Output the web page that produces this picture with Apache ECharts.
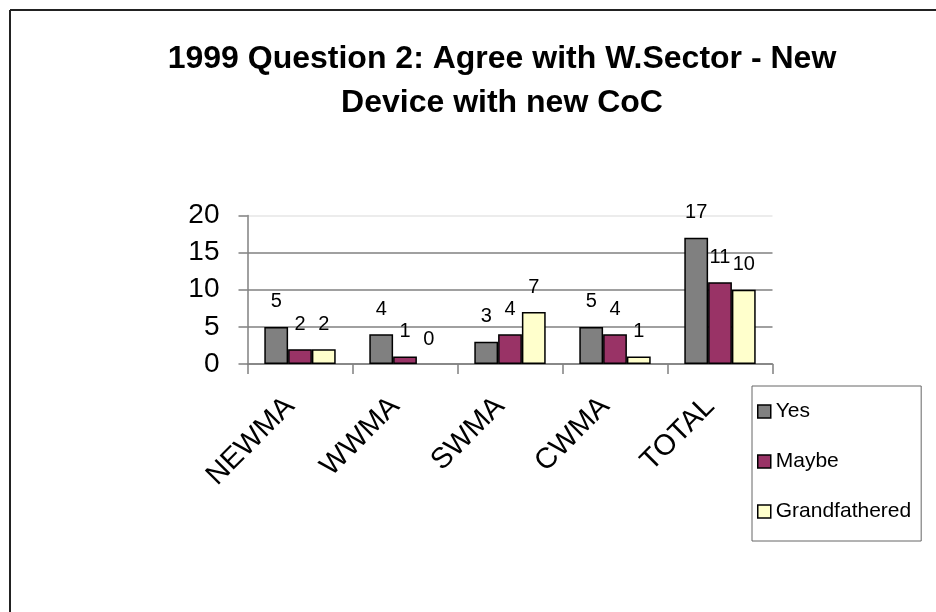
<!DOCTYPE html>
<html>
<head>
<meta charset="utf-8">
<script src="https://cdn.jsdelivr.net/npm/echarts@6/dist/echarts.min.js"></script>
<style>
html,body{margin:0;padding:0;background:#fff;}
#chart{width:936px;height:612px;}
</style>
</head>
<body>
<div id="chart"></div>
<script>
const categories = ['NEWMA', 'WWMA', 'SWMA', 'CWMA', 'TOTAL'];
const yesValues = [5, 4, 3, 5, 17];
const maybeValues = [2, 1, 4, 4, 11];
const grandfatheredValues = [2, 0, 7, 1, 10];
const seriesNames = ['Yes', 'Maybe', 'Grandfathered'];
const yTicks = [0, 5, 10, 15, 20];
const titleLines = ['1999 Question 2: Agree with W.Sector - New', 'Device with new CoC'];

const FONT = "'Liberation Sans', Arial, sans-serif";
const chart = echarts.init(document.getElementById('chart'), null, {renderer: 'canvas'});

function barSeries(name, values, color) {
  return {
    name: name,
    type: 'bar',
    // zero-height bars are drawn without an outline, as in the reference
    data: values.map(v => v === 0 ? {value: v, itemStyle: {borderWidth: 0}} : v),
    barGap: '0%',
    barCategoryGap: '32%',
    itemStyle: {color: color, borderColor: '#000', borderWidth: 1.5},
    label: {
      show: true, position: 'top', distance: 15,
      color: '#000', fontFamily: FONT, fontSize: 20
    }
  };
}

chart.setOption({
  backgroundColor: '#fff',
  animation: false,
  textStyle: {fontFamily: FONT},
  title: {
    text: titleLines.join('\n'),
    left: 497,
    textAlign: 'center',
    top: 32,
    textStyle: {fontFamily: FONT, fontWeight: 'bold', fontSize: 32, lineHeight: 44, color: '#000'}
  },
  graphic: [
    {type: 'line', shape: {x1: 10, y1: 10, x2: 936, y2: 10}, style: {stroke: '#222', lineWidth: 2}},
    {type: 'line', shape: {x1: 10, y1: 10, x2: 10, y2: 612}, style: {stroke: '#222', lineWidth: 2}}
  ],
  legend: {
    orient: 'vertical',
    left: 752,
    top: 386,
    data: seriesNames,
    icon: 'rect',
    itemWidth: 13,
    itemHeight: 13,
    itemGap: 29,
    padding: [15, 10, 19, 5],
    borderColor: '#666',
    borderWidth: 1,
    textStyle: {fontFamily: FONT, fontSize: 21, color: '#000'},
    itemStyle: {borderColor: '#000', borderWidth: 1.5}
  },
  grid: {left: 247.5, right: 163.5, top: 215.5, bottom: 248, containLabel: false},
  xAxis: {
    type: 'category',
    data: categories,
    axisLine: {lineStyle: {color: '#808080', width: 1.5}},
    axisTick: {show: true, length: 10, lineStyle: {color: '#808080', width: 1.5}},
    axisLabel: {rotate: 45, margin: 28, fontSize: 29, padding: [0, 14, 0, 0], color: '#000', fontFamily: FONT}
  },
  yAxis: {
    type: 'value',
    min: yTicks[0],
    max: yTicks[yTicks.length - 1],
    interval: 5,
    axisLine: {show: true, lineStyle: {color: '#808080', width: 1.5}},
    axisTick: {show: true, length: 9, lineStyle: {color: '#808080', width: 1.5}},
    axisLabel: {margin: 28, fontSize: 28, color: '#000', fontFamily: FONT},
    splitLine: {show: true, lineStyle: {color: ['#808080', '#808080', '#808080', '#808080', '#e6e6e6'], width: 1.5}}
  },
  series: [
    barSeries(seriesNames[0], yesValues, '#808080'),
    barSeries(seriesNames[1], maybeValues, '#993366'),
    barSeries(seriesNames[2], grandfatheredValues, '#FFFFCC')
  ]
});
</script>
</body>
</html>
